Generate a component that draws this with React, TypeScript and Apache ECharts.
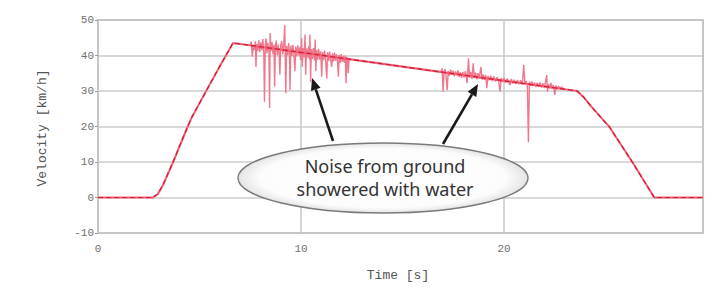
import React, { useEffect, useRef } from "react";
import * as echarts from "echarts";

// Velocity profile (time [s], velocity [km/h])
const profile: [number, number][] = [
  [0, 0], [2.7, 0], [2.95, 1.0], [3.2, 3.5], [3.7, 10], [4.42, 20], [4.63, 22.7],
  [5.5, 31.8], [6.0, 37.0], [6.65, 43.5], [7.2, 43.1], [23.6, 30.0], [23.9, 28.4],
  [24.3, 25.6], [25.2, 19.8], [26.35, 9.7], [27.4, 0], [29.8, 0],
];

// Noise caused by the ground showered with water (first zone)
const noiseA: [number, number][] = [
  [7.5, 42.8], [7.55, 43.9], [7.6, 39.7], [7.65, 42.9], [7.7, 41.6], [7.75, 44.0], [7.78, 36.8],
  [7.82, 43.2], [7.87, 41.3], [7.92, 44.3], [7.97, 40.9], [8.02, 43.7], [8.07, 41.5], [8.12, 44.6],
  [8.17, 40.2], [8.2, 27.0], [8.24, 43.1], [8.28, 44.8], [8.32, 40.6], [8.37, 43.5], [8.42, 41.0],
  [8.45, 25.2], [8.48, 46.3], [8.52, 41.2], [8.57, 43.8], [8.62, 40.4], [8.67, 43.1], [8.7, 31.2],
  [8.74, 42.6], [8.78, 44.2], [8.83, 40.1], [8.88, 43.0], [8.92, 40.7], [8.96, 34.6], [9.0, 42.9],
  [9.05, 44.0], [9.1, 40.3], [9.15, 43.2], [9.2, 48.6], [9.25, 29.4], [9.29, 42.7], [9.34, 40.0],
  [9.39, 43.5], [9.43, 40.6], [9.46, 30.3], [9.5, 42.8], [9.55, 39.9], [9.6, 43.0], [9.65, 40.2],
  [9.7, 35.6], [9.74, 42.5], [9.79, 39.8], [9.84, 42.9], [9.89, 40.0], [9.94, 42.3], [9.98, 38.7],
  [10.03, 44.9], [10.06, 36.8], [10.1, 42.1], [10.15, 39.5], [10.2, 45.9], [10.23, 34.5],
  [10.27, 42.0], [10.32, 39.4], [10.37, 42.6], [10.41, 38.9], [10.44, 45.9], [10.47, 32.6],
  [10.51, 41.8], [10.56, 39.0], [10.61, 42.1], [10.66, 38.6], [10.7, 44.5], [10.73, 35.6],
  [10.77, 41.5], [10.82, 38.8], [10.87, 41.9], [10.92, 38.9], [10.97, 41.2], [11.02, 34.0],
  [11.06, 41.0], [11.11, 38.7], [11.16, 41.4], [11.21, 38.5], [11.27, 33.5], [11.31, 40.9],
  [11.36, 38.4], [11.41, 41.1], [11.46, 38.6], [11.51, 36.8], [11.55, 40.6], [11.6, 38.3],
  [11.65, 40.8], [11.7, 38.5], [11.75, 40.3], [11.8, 38.1], [11.84, 34.0], [11.88, 40.2],
  [11.93, 38.0], [11.98, 40.4], [12.03, 38.2], [12.08, 39.9], [12.13, 37.9], [12.18, 40.0],
  [12.22, 32.2], [12.26, 39.6], [12.3, 38.0], [12.33, 35.0], [12.37, 39.3], [12.42, 38.7],
];

// Noise (second zone)
const noiseB: [number, number][] = [
  [16.9, 35.3], [16.95, 36.4], [17.0, 29.8], [17.04, 35.0], [17.09, 36.2], [17.14, 34.4],
  [17.2, 30.3], [17.25, 35.6], [17.31, 34.3], [17.37, 36.0], [17.43, 34.6], [17.49, 35.7],
  [17.55, 34.1], [17.61, 35.5], [17.67, 34.4], [17.73, 35.8], [17.79, 34.0], [17.85, 35.3],
  [17.91, 33.7], [17.97, 35.4], [18.03, 33.8], [18.1, 35.6], [18.18, 32.2], [18.25, 39.2],
  [18.3, 33.7], [18.36, 35.4], [18.42, 33.4], [18.48, 37.8], [18.54, 33.6], [18.6, 35.2],
  [18.66, 33.3], [18.72, 35.0], [18.78, 33.4], [18.86, 36.8], [18.92, 33.2], [18.98, 34.7],
  [19.04, 33.1], [19.1, 34.5], [19.15, 30.8], [19.21, 34.2], [19.28, 33.0], [19.35, 34.3],
  [19.42, 32.8], [19.5, 34.1], [19.58, 32.7], [19.66, 33.9], [19.74, 32.6], [19.8, 29.8],
  [19.86, 33.7], [19.93, 32.5], [20.0, 33.7], [20.08, 32.3], [20.16, 33.5], [20.24, 32.2],
  [20.3, 31.7], [20.36, 33.4], [20.43, 32.1], [20.5, 33.2], [20.58, 32.0], [20.66, 33.1],
  [20.74, 31.9], [20.82, 33.0], [20.9, 31.8], [20.97, 37.3], [21.03, 31.9], [21.09, 32.8],
  [21.15, 31.6], [21.2, 15.6], [21.25, 32.6], [21.31, 31.5], [21.37, 32.7], [21.43, 31.4],
  [21.5, 32.4], [21.56, 31.1], [21.63, 32.3], [21.7, 31.2], [21.77, 32.4], [21.84, 31.0],
  [21.91, 32.2], [21.98, 30.8], [22.05, 32.8], [22.1, 34.5], [22.14, 29.8], [22.19, 32.0],
  [22.25, 30.7], [22.31, 32.3], [22.37, 30.6], [22.43, 31.7], [22.5, 28.9], [22.56, 31.6],
  [22.62, 30.4], [22.69, 31.4], [22.76, 30.6], [22.83, 31.2], [22.9, 30.5], [22.96, 30.9],
];

const xLabel = "Time [s]";
const yLabel = "Velocity [km/h]";
const noteLines = ["Noise from ground", "showered with water"];

export default function App() {
  const ref = useRef<HTMLDivElement>(null);
  useEffect(() => {
    if (!ref.current) return;
    const chart = echarts.init(ref.current, undefined, { renderer: "svg" });
    const mono = "'Liberation Mono', 'DejaVu Sans Mono', monospace";
    const arrow = (tail: number[], tip: number[]) => {
      const dx = tip[0] - tail[0];
      const dy = tip[1] - tail[1];
      const len = Math.hypot(dx, dy);
      const ux = dx / len, uy = dy / len;
      const px = -uy, py = ux;
      const hl = 12, hw = 5;
      const bx = tip[0] - ux * hl, by = tip[1] - uy * hl;
      return [
        {
          type: "line", z: 100,
          shape: { x1: tail[0], y1: tail[1], x2: bx, y2: by },
          style: { stroke: "#1a1a1a", lineWidth: 2.6 },
        },
        {
          type: "polygon", z: 100,
          shape: { points: [[tip[0], tip[1]], [bx + px * hw, by + py * hw], [bx - px * hw, by - py * hw]] },
          style: { fill: "#1a1a1a" },
        },
      ];
    };
    chart.setOption({
      animation: false,
      backgroundColor: "#ffffff",
      grid: {
        left: 98, right: 18, top: 20, bottom: 55,
        show: true, borderColor: "#9a9a9a", borderWidth: 1.5, backgroundColor: "#ffffff",
      },
      xAxis: {
        type: "value", min: 0, max: 29.8, interval: 10,
        axisLine: { show: false },
        axisTick: { show: false },
        axisLabel: { color: "#707070", fontSize: 11, fontFamily: mono, margin: 10, showMaxLabel: false },
        splitLine: { show: true, lineStyle: { color: "#cbcbcb", width: 1.6 } },
      },
      yAxis: {
        type: "value", min: -10, max: 50, interval: 10,
        axisLine: { show: false },
        axisTick: { show: true, length: 3, lineStyle: { color: "#999" } },
        axisLabel: { color: "#707070", fontSize: 11, fontFamily: mono, margin: 4 },
        splitLine: { show: true, lineStyle: { color: "#cbcbcb", width: 1.6 } },
      },
      series: [
        {
          type: "line", data: noiseA, showSymbol: false, silent: true,
          lineStyle: { color: "#f0788c", width: 1.4 },
        },
        {
          type: "line", data: noiseB, showSymbol: false, silent: true,
          lineStyle: { color: "#f0788c", width: 1.4 },
        },
        {
          type: "line", data: profile, showSymbol: false, silent: true,
          lineStyle: { color: "#f0607a", width: 2 },
        },
        {
          type: "line", data: profile, showSymbol: false, silent: true,
          lineStyle: { color: "#d41c2c", width: 1.2, type: [5, 3] },
        },
      ],
      graphic: [
        {
          type: "text", x: 42, y: 128, rotation: Math.PI / 2, z: 50,
          style: { text: yLabel, fill: "#555", font: `13px ${mono}`, textAlign: "center", textVerticalAlign: "middle" },
        },
        {
          type: "text", x: 398, y: 275, z: 50,
          style: { text: xLabel, fill: "#555", font: `13px ${mono}`, textAlign: "center", textVerticalAlign: "middle" },
        },
        {
          type: "ellipse", z: 90,
          shape: { cx: 383, cy: 178, rx: 145, ry: 35 },
          style: {
            fill: new echarts.graphic.RadialGradient(0.5, 0.5, 0.5, [
              { offset: 0, color: "#ffffff" },
              { offset: 0.85, color: "#fcfcfc" },
              { offset: 1, color: "#e4e4e4" },
            ]),
            stroke: "#7a7a7a", lineWidth: 1.3,
          },
        },
        {
          type: "text", x: 385, y: 166, z: 95,
          style: { text: noteLines[0], fill: "#333", font: "18px 'Noto Sans', sans-serif", textAlign: "center", textVerticalAlign: "middle" },
        },
        {
          type: "text", x: 385, y: 189, z: 95,
          style: { text: noteLines[1], fill: "#333", font: "18px 'Noto Sans', sans-serif", textAlign: "center", textVerticalAlign: "middle" },
        },
        ...arrow([333, 141], [312, 78]),
        ...arrow([443, 144], [478, 84]),
      ],
    });
    return () => chart.dispose();
  }, []);
  return <div ref={ref} style={{ position: "fixed", left: 0, top: 0, width: 721, height: 288 }} />;
}
